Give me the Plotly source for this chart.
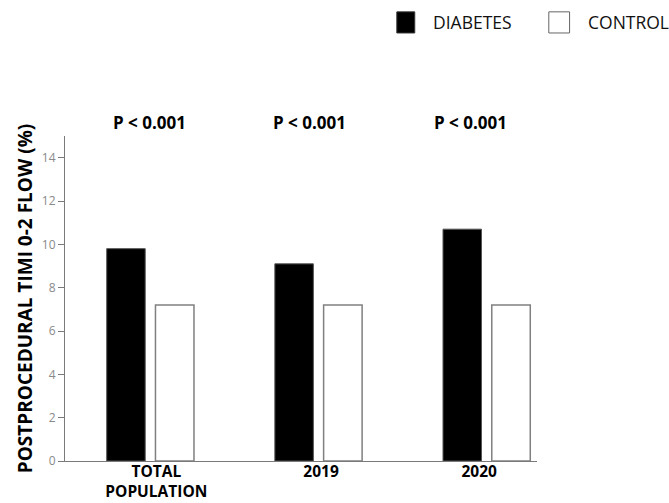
import plotly.graph_objects as go

# Postprocedural TIMI 0-2 flow rates by group
categories = ["TOTAL<br>POPULATION", "2019", "2020"]
diabetes = [9.8, 9.1, 10.7]
control = [7.2, 7.2, 7.2]
p_labels = ["P < 0.001", "P < 0.001", "P < 0.001"]
y_ticks = [0, 2, 4, 6, 8, 10, 12, 14]

group_pos = list(range(len(categories)))
label_pos = [0.04, 1.02, 1.96]      # where each group's caption sits
p_label_x = [0.0, 0.95, 1.91]       # where each p-value sits

FONT = "Open Sans"
AXIS_GREY = "#7a7a7a"
BAR_W = 0.229

fig = go.Figure()
fig.add_trace(go.Bar(
    name="DIABETES", x=group_pos, y=diabetes,
    width=BAR_W, offset=-0.255,
    marker=dict(color="black", line=dict(color="#555555", width=1)),
))
fig.add_trace(go.Bar(
    name="CONTROL", x=group_pos, y=control,
    width=BAR_W, offset=0.035,
    marker=dict(color="white", line=dict(color="#808080", width=1.5)),
))

# p-value annotations above each group
for xv, txt in zip(p_label_x, p_labels):
    fig.add_annotation(
        x=xv, y=1.043, xref="x", yref="paper", text=f"<b>{txt}</b>",
        showarrow=False, font=dict(family=FONT, size=17, color="black"),
        xanchor="center", yanchor="middle",
    )

# legend drawn as swatches + labels in the top-right corner
legend_items = [
    ("DIABETES", "black", "#333333", 0.703, 0.741, 0.776),
    ("CONTROL", "white", "#666666", 1.025, 1.069, 1.104),
]
for label, fill, edge, x0, x1, tx in legend_items:
    fig.add_shape(
        type="rect", xref="paper", yref="paper",
        x0=x0, x1=x1, y0=1.317, y1=1.382,
        fillcolor=fill, line=dict(color=edge, width=1),
    )
    fig.add_annotation(
        x=tx, y=1.351, xref="paper", yref="paper", text=label,
        showarrow=False, xanchor="left", yanchor="middle",
        font=dict(family=FONT, size=17.5, color="#111111"),
    )

fig.update_layout(
    width=669, height=503,
    margin=dict(l=65, r=132, t=136, b=42),
    paper_bgcolor="white", plot_bgcolor="white",
    barmode="overlay",
    showlegend=False,
    font=dict(family=FONT),
    xaxis=dict(
        range=[-0.503, 2.304], automargin=False,
        tickvals=label_pos, ticktext=categories, ticklabelstandoff=-4,
        showline=True, linecolor=AXIS_GREY, linewidth=1.2,
        ticks="", showgrid=False, zeroline=False,
        tickfont=dict(family=FONT, size=15.5, color="black", weight="bold"),
    ),
    yaxis=dict(
        range=[0, 15], tickvals=y_ticks, automargin=False,
        showline=True, linecolor=AXIS_GREY, linewidth=1.2,
        ticks="outside", ticklen=6, tickcolor=AXIS_GREY,
        showgrid=False, zeroline=False,
        tickfont=dict(family=FONT, size=12, color="#8a8a8a"),
        title=dict(
            text="<b>POSTPROCEDURAL TIMI 0-2 FLOW (%)</b>",
            font=dict(family=FONT, size=19, color="black"),
            standoff=4,
        ),
    ),
)

fig.write_html("out.html")
